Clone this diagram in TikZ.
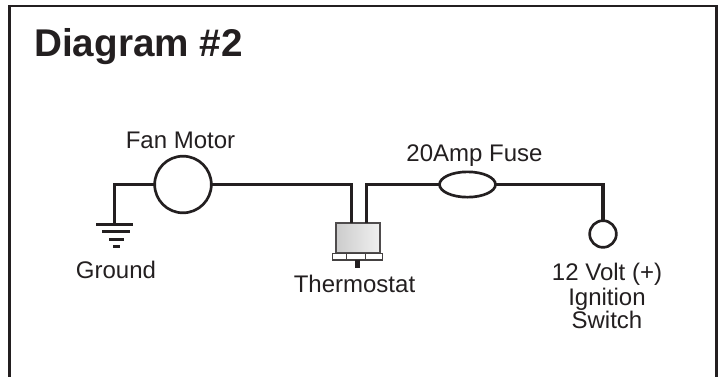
\documentclass[tikz,border=0pt]{standalone}
\usepackage{fontspec}
\usetikzlibrary{shapes.geometric}
\setmainfont{Liberation Sans}
\definecolor{ink}{HTML}{231F20}
\tikzset{
  x=0.75pt,y=-0.75pt,
  wire/.style={draw=ink,line width=2.3pt,line join=miter},
  gndline/.style={draw=ink,line width=2pt},
  thinline/.style={draw=ink!85,line width=0.8pt},
  lbl/.style={text=ink,font=\fontsize{18pt}{18pt}\selectfont,inner sep=0pt,align=center,anchor=base},
  part/.style={draw=ink,line width=2pt,fill=white,inner sep=0pt,outer sep=0pt},
}
\begin{document}
\begin{tikzpicture}
\useasboundingbox (0,0) rectangle (718,376);
\draw[draw=ink,line width=2pt] (9.5,380) -- (9.5,6) -- (716.5,6) -- (716.5,380);
\node[lbl,anchor=base west,font=\bfseries\fontsize{29pt}{32pt}\selectfont] (title) at (34,56.7) {Diagram \#2};

\node[part,circle,minimum size=42.5pt] (motor) at (183,184.5) {};
\node[part,ellipse,minimum width=42pt,minimum height=19pt] (fuse) at (467.5,184.5) {};
\node[part,circle,minimum size=20pt] (sw) at (603,234) {};

% thermostat
\node[draw=ink!80,line width=1pt,minimum width=33pt,minimum height=22.5pt,inner sep=0pt,outer sep=0pt,
  left color=black!20,right color=black!6,middle color=black!13] (body) at (358,238) {};
\node[thinline,fill=white,minimum width=37pt,minimum height=5.2pt,inner sep=0pt,outer sep=0pt] (base) at (357.5,256.5) {};
\draw[thinline] (346.3,253) -- (346.3,260);
\draw[thinline] (365.7,253) -- (365.7,260);
\coordinate (stemend) at (357.5,267.5);
\draw[draw=ink,line width=3.3pt] (base.south) -- (stemend);

% wiring
\coordinate (gnd) at (114.5,224);
\coordinate (wa) at (351.5,223);
\coordinate (wb) at (366.5,223);
\draw[wire] (motor.west) -| (gnd);
\draw[wire] (motor.east) -| (wa);
\draw[wire] (wb) |- (fuse.west);
\draw[wire] (fuse.east) -| (sw.north);

% ground
\draw[gndline] (96,224.5) -- (133,224.5);
\draw[gndline] (102,231.5) -- (130,231.5);
\draw[gndline] (109,239.5) -- (124,239.5);
\draw[gndline] (113,246.5) -- (120,246.5);

\node[lbl] (lfan) at (180.5,148.5) {Fan Motor};
\node[lbl] (lfuse) at (474.5,161.5) {20Amp Fuse};
\node[lbl] (lgnd) at (116,278) {Ground};
\node[lbl] (lth) at (354.5,292) {Thermostat};
\node[lbl,anchor=center] (lsw) at (607,295.5) {12 Volt (+)\\[1.1pt]Ignition\\[-1.1pt]Switch};
\end{tikzpicture}
\end{document}
